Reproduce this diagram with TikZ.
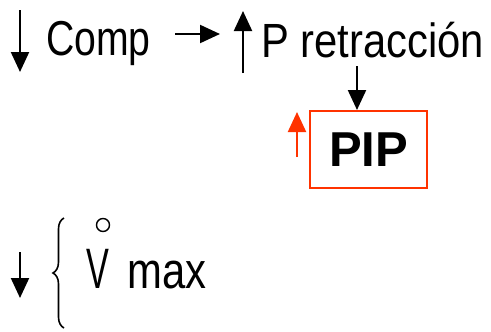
\documentclass[tikz,border=0pt]{standalone}
\usepackage{fontspec}
\setmainfont{Liberation Sans}
\newfontfamily\compfont[FakeStretch=0.80]{Liberation Sans}
\newfontfamily\pretfont[FakeStretch=0.87]{Liberation Sans}
\newfontfamily\vfont[FakeStretch=0.60]{Liberation Sans}
\newfontfamily\maxfont[FakeStretch=0.82]{Liberation Sans}
\usetikzlibrary{arrows.meta,decorations.pathreplacing}
\definecolor{pipred}{RGB}{255,51,0}
\tikzset{
  arr/.style={line width=2.2pt,-{Triangle[length=20pt,width=18pt]}},
  txt/.style={inner sep=0pt,anchor=base west},
  pipbox/.style={draw=pipred,line width=2pt,minimum width=117pt,minimum height=77pt,inner sep=0pt,font=\bfseries\fontsize{49}{52}\selectfont}
}
\begin{document}
\begin{tikzpicture}[x=1pt,y=-1pt]
\useasboundingbox (0,0) rectangle (491,332);
% top row
\coordinate (d1s) at (20,10);
\coordinate (d1e) at (20,72);
\draw[arr] (d1s) -- (d1e);
\node[txt,font=\compfont\fontsize{49}{52}\selectfont] (comp) at (46,56) {Comp};
\coordinate (r1s) at (175,34);
\coordinate (r1e) at (220,34);
\draw[arr] (r1s) -- (r1e);
\coordinate (u1s) at (243,73);
\coordinate (u1e) at (243,11);
\draw[arr] (u1s) -- (u1e);
\node[txt,font=\pretfont\fontsize{48}{52}\selectfont] (pret) at (261,57) {P retracción};
% PIP box
\node[pipbox] (pip) at (368.5,149.5) {PIP};
\coordinate (dpS) at (357,66);
\draw[arr] (dpS) -- (pip.north -| dpS);
\coordinate (rus) at (297,157);
\coordinate (rue) at (297,112);
\draw[arr,pipred] (rus) -- (rue);
% bottom row
\coordinate (d2s) at (20,252);
\coordinate (d2e) at (20,298);
\draw[arr] (d2s) -- (d2e);
\coordinate (bt) at (64,328);
\coordinate (bb) at (64,218);
\draw[line width=1.6pt,decorate,decoration={brace,amplitude=11pt,aspect=0.5}] (bt) -- (bb);
\node[txt,font=\vfont\fontsize{57}{60}\selectfont] (v) at (86,288) {V};
\node[draw,circle,line width=1.4pt,minimum size=13pt,inner sep=0pt] (ring) at (103,225) {};
\node[txt,font=\maxfont\fontsize{51}{54}\selectfont] (max) at (127,288) {max};
\end{tikzpicture}
\end{document}
